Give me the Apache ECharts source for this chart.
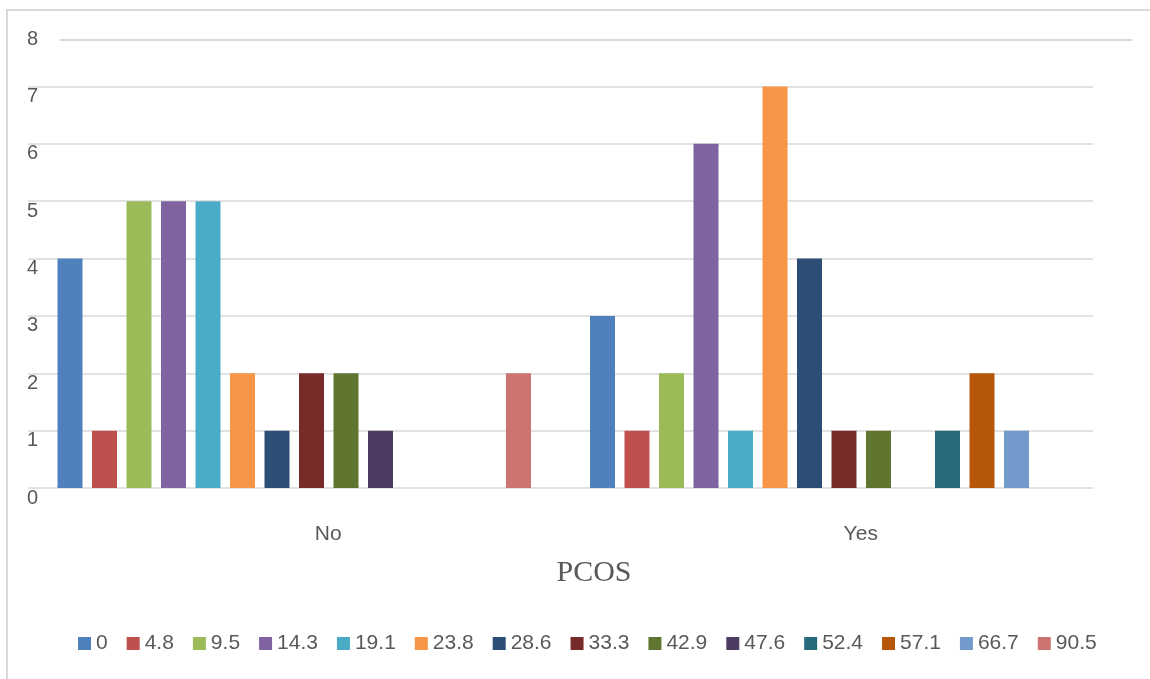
<!DOCTYPE html>
<html>
<head>
<meta charset="utf-8">
<title>PCOS</title>
<script src="https://cdn.jsdelivr.net/npm/echarts@6/dist/echarts.min.js"></script>
<style>
  html, body { margin: 0; padding: 0; background: #ffffff; }
  #chart { width: 1150px; height: 679px; }
</style>
</head>
<body>
<div id="chart"></div>
<script>
// PCOS groups on the x axis
const categories = ['No', 'Yes'];
// one series per score value
const seriesNames = ['0', '4.8', '9.5', '14.3', '19.1', '23.8', '28.6', '33.3', '42.9', '47.6', '52.4', '57.1', '66.7', '90.5'];
// counts per score for each group
const noCounts  = [4, 1, 5, 5, 5, 2, 1, 2, 2, 1, 0, 0, 0, 2];
const yesCounts = [3, 1, 2, 6, 1, 7, 4, 1, 1, 0, 1, 2, 1, 0];
// levels that get a horizontal gridline
const gridLevels = [0, 1, 2, 3, 4, 5, 6, 7];
const seriesColors = ['#4F81BD', '#C0504D', '#9BBB59', '#8064A2', '#4BACC6', '#F79646', '#2C4D75',
                      '#772C2A', '#5F7530', '#4D3B62', '#276A7C', '#B65708', '#729ACA', '#CD7371'];

const textColor = '#595959';
const font = "'Liberation Sans', Arial, sans-serif";

const series = seriesNames.map((name, i) => {
  const s = {
    name: name,
    type: 'bar',
    data: [noCounts[i], yesCounts[i]],
    barWidth: 25,
    barGap: '38%',
    z: 2,
    itemStyle: { color: seriesColors[i] }
  };
  if (i === 0) {
    s.markLine = {
      z: 0,
      silent: true,
      symbol: 'none',
      label: { show: false },
      lineStyle: { color: '#d9d9d9', width: 1.5, type: 'solid' },
      data: gridLevels.map(v => ({ yAxis: v }))
    };
  }
  return s;
});

const chart = echarts.init(document.getElementById('chart'), null, { renderer: 'canvas' });
chart.setOption({
  animation: false,
  color: seriesColors,
  grid: { left: 28, right: 57, top: 29, bottom: 191, containLabel: false },
  xAxis: {
    type: 'category',
    data: categories,
    axisLine: { show: false },
    axisTick: { show: false },
    axisLabel: {
      color: textColor, fontFamily: font, fontSize: 21, margin: 36,
      padding: [0, 0, 0, 68]
    },
    name: 'PCOS',
    nameLocation: 'middle',
    nameGap: 70,
    nameTextStyle: {
      color: textColor, fontFamily: "'Liberation Serif', 'Times New Roman', serif",
      fontSize: 30, padding: [0, 0, 0, 67]
    }
  },
  yAxis: {
    type: 'value',
    min: 0, max: 8, interval: 1,
    axisLine: { show: false },
    axisTick: { show: false },
    splitLine: { show: false },
    axisLabel: {
      inside: true, margin: -1,
      color: textColor, fontFamily: font, fontSize: 20,
      verticalAlign: 'top'
    }
  },
  legend: {
    left: 78,
    top: 633,
    padding: 0,
    itemWidth: 13,
    itemHeight: 13,
    itemGap: 19,
    icon: 'rect',
    textStyle: { color: textColor, fontFamily: font, fontSize: 21 },
    data: seriesNames
  },
  graphic: [
    {
      type: 'rect',
      shape: { x: 7, y: 10, width: 1200, height: 700 },
      style: { fill: 'none', stroke: '#d9d9d9', lineWidth: 2 },
      silent: true
    },
    {
      type: 'line',
      shape: { x1: 60, y1: 40, x2: 1132, y2: 40 },
      style: { stroke: '#d9d9d9', lineWidth: 2 },
      silent: true
    }
  ],
  series: series
});
</script>
</body>
</html>
